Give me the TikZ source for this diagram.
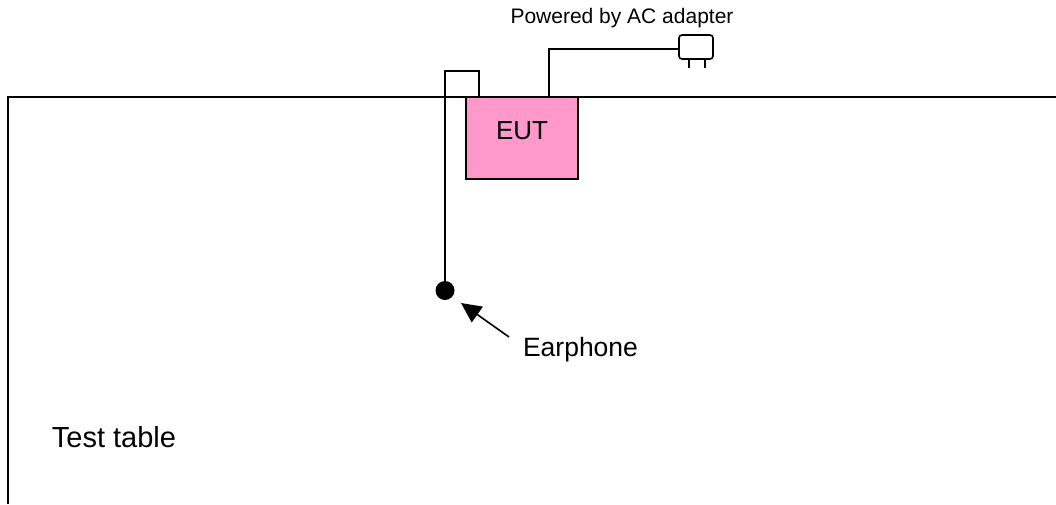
\documentclass[tikz,border=0pt]{standalone}
\usepackage{fontspec}
\setmainfont{Liberation Sans}
\usetikzlibrary{arrows.meta}
\tikzset{
    wire/.style={line width=1.6pt, line join=miter},
    label/.style={inner sep=0pt, text=black},
}

\begin{document}
\begin{tikzpicture}[x=1pt, y=-1pt]
    \useasboundingbox (0,0) rectangle (1056,504);

    % test table
    \coordinate (table sw) at (8,504);
    \coordinate (table nw) at (8,97);
    \coordinate (table ne) at (1056,97);
    \draw[wire] (table sw) -- (table nw) -- (table ne);
    \node[label, font=\fontsize{29}{32}\selectfont] (table) at (114,437.5) {Test table};

    % EUT
    \node[
        draw=black,
        fill={rgb,255:red,255;green,153;blue,204},
        line width=1.6pt,
        minimum width=112pt,
        minimum height=82pt,
        inner sep=0pt]
        (eut) at (522,138) {};
    \node[label, font=\fontsize{26}{30}\selectfont] (eutlabel) at (522,131) {EUT};

    % adapter
    \node[
        draw=black,
        fill=white,
        rounded corners=3pt,
        line width=1.6pt,
        minimum width=34pt,
        minimum height=24pt,
        inner sep=0pt]
        (adapter) at (696,47) {};
    \coordinate (prong a) at (689,59);
    \coordinate (prong b) at (705,59);
    \draw[line width=1.3pt] (prong a) -- ++(0,8.5);
    \draw[line width=1.3pt] (prong b) -- ++(0,8.5);
    \node[label, font=\fontsize{21}{24}\selectfont] (power) at (622,18.5) {Powered by AC adapter};
    \coordinate (power out) at (549,97);
    \draw[wire] (power out) |- ([yshift=-2pt]adapter.west);

    % earphone
    \node[
        circle,
        fill=black,
        minimum size=19pt,
        inner sep=0pt]
        (phone) at (445,290.5) {};
    \coordinate (audio out) at (479,97);
    \draw[wire] (audio out) -- (479,71) -- (445,71) -- (phone);
    \node[label, font=\fontsize{26.5}{30}\selectfont] (earphone) at (580.5,350) {Earphone};
    \coordinate (arrow end) at (509,337);
    \coordinate (arrow tip) at (461,303);
    \draw[-{Triangle[length=20pt, width=19pt]}, line width=1.6pt] (arrow end) -- (arrow tip);
\end{tikzpicture}
\end{document}
